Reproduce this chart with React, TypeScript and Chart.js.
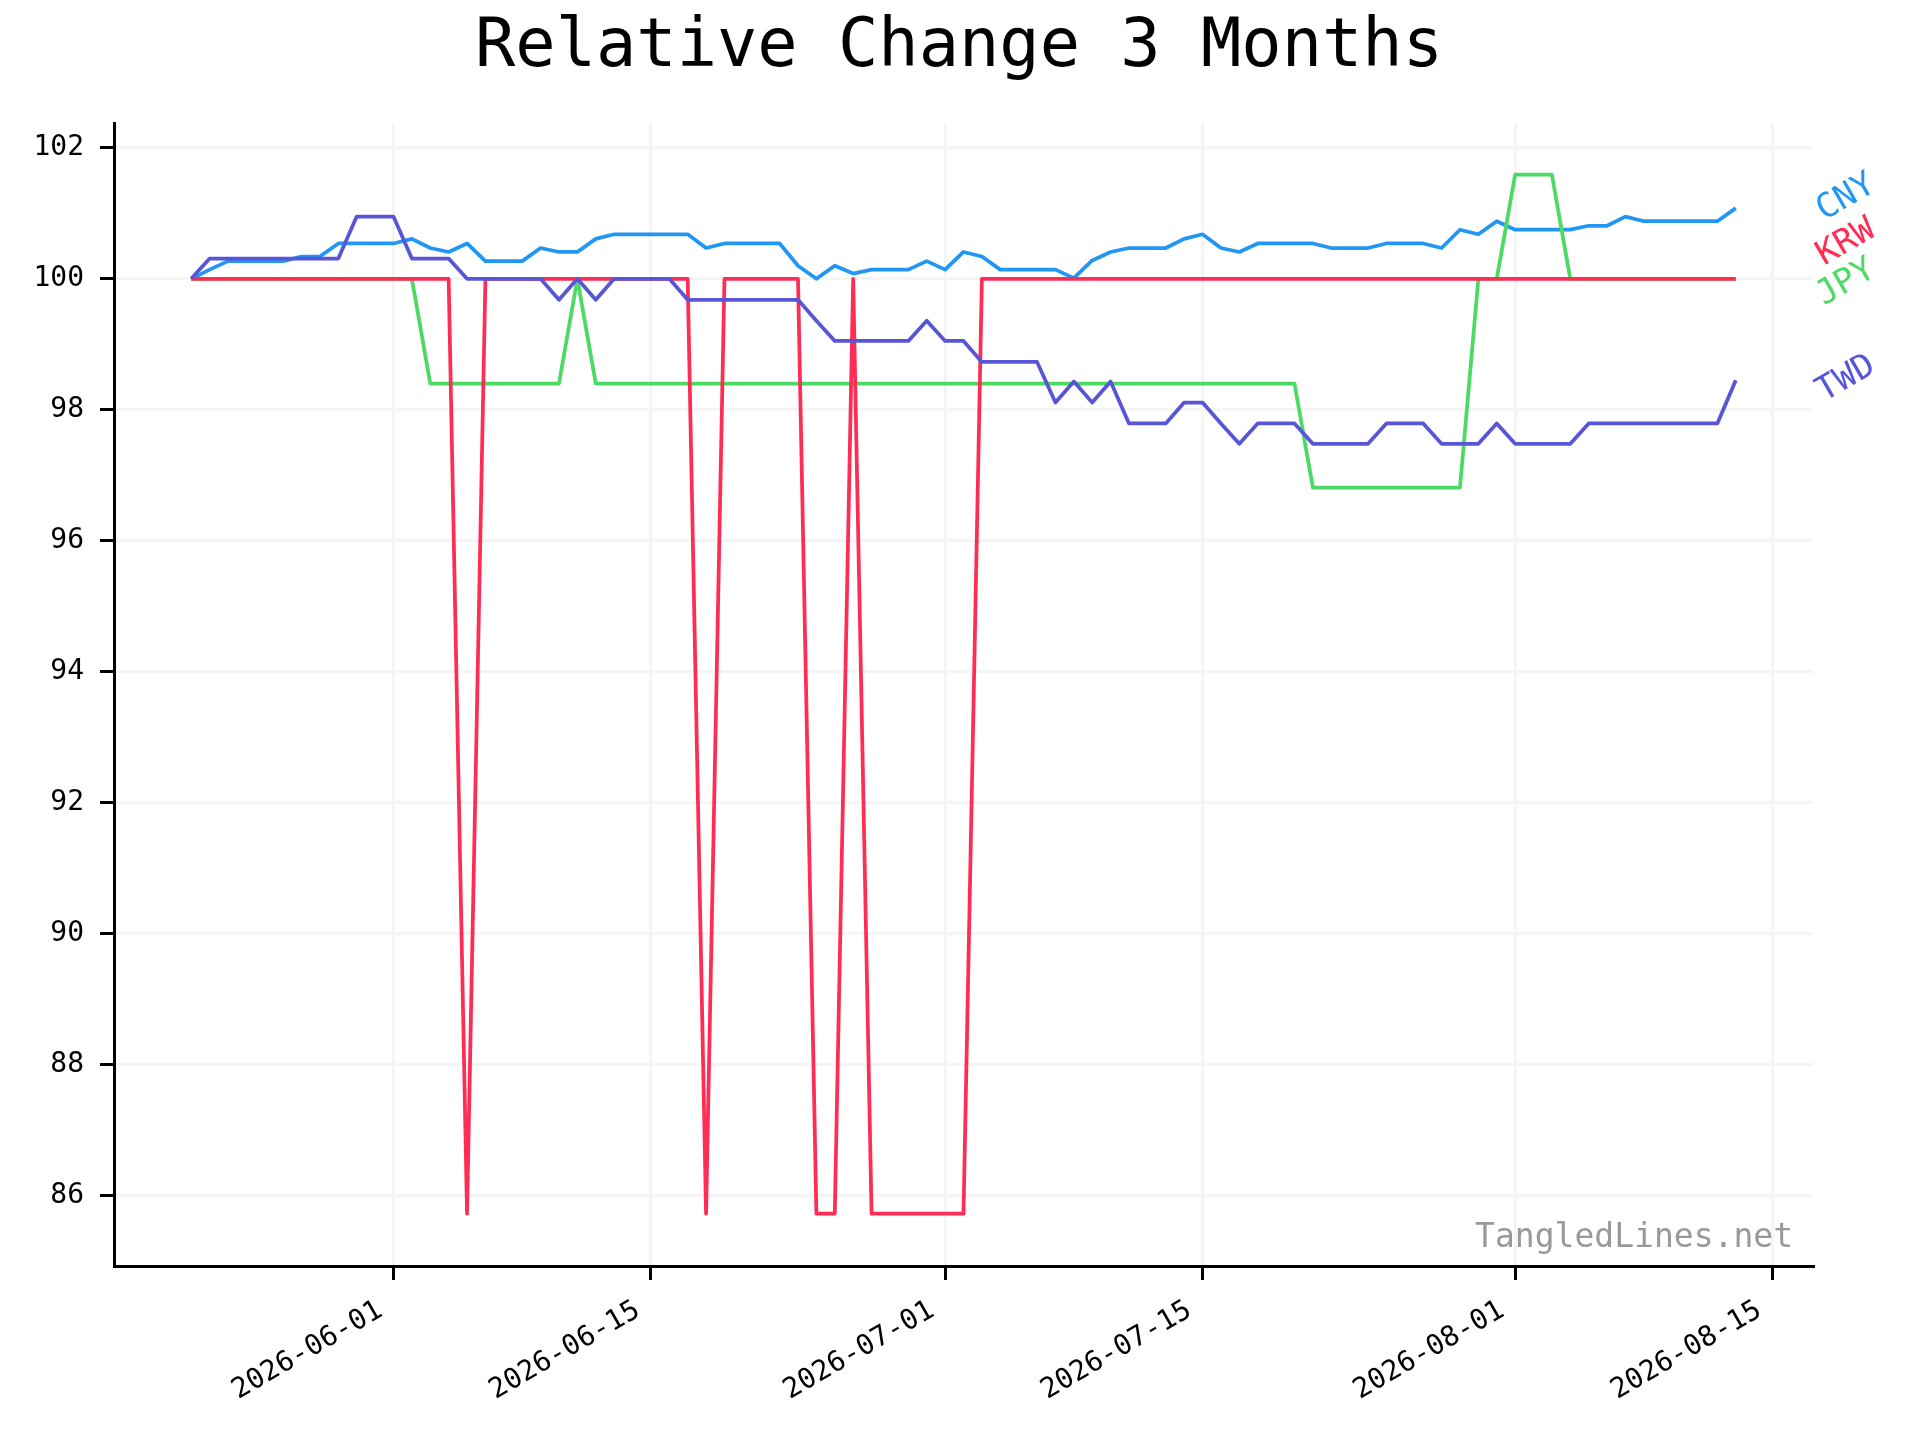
import { useEffect, useRef } from 'react'
import { Chart, registerables } from 'chart.js'

Chart.register(...registerables)

const TITLE = 'Relative Change 3 Months'
const WATERMARK = 'TangledLines.net'
const START_DATE = '2026-05-21'
const TICK_LABELS = ['2026-06-01', '2026-06-15', '2026-07-01', '2026-07-15', '2026-08-01', '2026-08-15']
const Y_TICKS = [86, 88, 90, 92, 94, 96, 98, 100, 102]

// one value per day, starting at START_DATE
const CNY = [
  100, 100.14, 100.27, 100.27, 100.27, 100.27, 100.34, 100.34, 100.54, 100.54,
  100.54, 100.54, 100.61, 100.47, 100.41, 100.54, 100.27, 100.27, 100.27, 100.47,
  100.41, 100.41, 100.61, 100.68, 100.68, 100.68, 100.68, 100.68, 100.47, 100.54,
  100.54, 100.54, 100.54, 100.2, 100, 100.2, 100.08, 100.14, 100.14, 100.14,
  100.27, 100.14, 100.41, 100.34, 100.14, 100.14, 100.14, 100.14, 100.01, 100.28,
  100.41, 100.47, 100.47, 100.47, 100.61, 100.68, 100.47, 100.41, 100.54, 100.54,
  100.54, 100.54, 100.47, 100.47, 100.47, 100.54, 100.54, 100.54, 100.47, 100.75,
  100.68, 100.88, 100.75, 100.75, 100.75, 100.75, 100.81, 100.81, 100.95, 100.88,
  100.88, 100.88, 100.88, 100.88, 101.08,
]
const KRW = [
  100, 100, 100, 100, 100, 100, 100, 100, 100, 100,
  100, 100, 100, 100, 100, 85.72, 100, 100, 100, 100,
  100, 100, 100, 100, 100, 100, 100, 100, 85.72, 100,
  100, 100, 100, 100, 85.72, 85.72, 100, 85.72, 85.72, 85.72,
  85.72, 85.72, 85.72, 100, 100, 100, 100, 100, 100, 100,
  100, 100, 100, 100, 100, 100, 100, 100, 100, 100,
  100, 100, 100, 100, 100, 100, 100, 100, 100, 100,
  100, 100, 100, 100, 100, 100, 100, 100, 100, 100,
  100, 100, 100, 100, 100,
]
const JPY = [
  100, 100, 100, 100, 100, 100, 100, 100, 100, 100,
  100, 100, 100, 98.4, 98.4, 98.4, 98.4, 98.4, 98.4, 98.4,
  98.4, 100, 98.4, 98.4, 98.4, 98.4, 98.4, 98.4, 98.4, 98.4,
  98.4, 98.4, 98.4, 98.4, 98.4, 98.4, 98.4, 98.4, 98.4, 98.4,
  98.4, 98.4, 98.4, 98.4, 98.4, 98.4, 98.4, 98.4, 98.4, 98.4,
  98.4, 98.4, 98.4, 98.4, 98.4, 98.4, 98.4, 98.4, 98.4, 98.4,
  98.4, 96.81, 96.81, 96.81, 96.81, 96.81, 96.81, 96.81, 96.81, 96.81,
  100, 100, 101.59, 101.59, 101.59, 100, 100, 100, 100, 100,
  100, 100, 100, 100, 100,
]
const TWD = [
  100, 100.31, 100.31, 100.31, 100.31, 100.31, 100.31, 100.31, 100.31, 100.95,
  100.95, 100.95, 100.31, 100.31, 100.31, 100, 100, 100, 100, 100,
  99.68, 100, 99.68, 100, 100, 100, 100, 99.68, 99.68, 99.68,
  99.68, 99.68, 99.68, 99.68, 99.36, 99.05, 99.05, 99.05, 99.05, 99.05,
  99.36, 99.05, 99.05, 98.73, 98.73, 98.73, 98.73, 98.11, 98.43, 98.11,
  98.43, 97.79, 97.79, 97.79, 98.11, 98.11, 97.79, 97.48, 97.79, 97.79,
  97.79, 97.48, 97.48, 97.48, 97.48, 97.79, 97.79, 97.79, 97.48, 97.48,
  97.48, 97.79, 97.48, 97.48, 97.48, 97.48, 97.79, 97.79, 97.79, 97.79,
  97.79, 97.79, 97.79, 97.79, 98.45,
]

// end-of-line labels, nudged apart like the original
const LABEL_DAY = 90
const LABEL_Y = { CNY: 101.24, KRW: 100.55, JPY: 99.94, TWD: 98.47 }

const MONO = '"DejaVu Sans Mono", monospace'
const GRID = '#f5f5f5'

// first in list is drawn on top
const SERIES = [
  { name: 'TWD', values: TWD, color: '#5856d6' },
  { name: 'KRW', values: KRW, color: '#ff2d55' },
  { name: 'JPY', values: JPY, color: '#4cd964' },
  { name: 'CNY', values: CNY, color: '#2196f3' },
]

const dayOffset = (d: string) => Math.round((Date.parse(d) - Date.parse(START_DATE)) / 86400000)

const decorations = {
  id: 'decorations',
  afterDraw(chart: any) {
    const { ctx, chartArea, scales } = chart
    ctx.save()
    ctx.fillStyle = '#000'
    ctx.font = `67px ${MONO}`
    ctx.textAlign = 'center'
    ctx.textBaseline = 'alphabetic'
    ctx.fillText(TITLE, 959, 66)

    ctx.fillStyle = '#999999'
    ctx.font = `33px ${MONO}`
    ctx.textAlign = 'right'
    ctx.fillText(WATERMARK, chartArea.right - 20, chartArea.bottom - 19)

    SERIES.forEach(s => {
      ctx.save()
      ctx.translate(scales.x.getPixelForValue(LABEL_DAY), scales.y.getPixelForValue((LABEL_Y as any)[s.name]))
      ctx.rotate(-Math.PI / 6)
      ctx.fillStyle = s.color
      ctx.font = `34px ${MONO}`
      ctx.textAlign = 'center'
      ctx.textBaseline = 'middle'
      ctx.fillText(s.name, 0, 0)
      ctx.restore()
    })
    ctx.restore()
  },
}

export default function App() {
  const canvasRef = useRef<HTMLCanvasElement>(null)

  useEffect(() => {
    if (!canvasRef.current) return
    document.body.style.margin = '0'

    const tickDays = TICK_LABELS.map(dayOffset)
    const axisGrid = { color: GRID, lineWidth: 3, tickColor: '#000', tickWidth: 3, tickLength: 14 }
    const axisBorder = { color: '#000', width: 3 }

    const chart = new Chart(canvasRef.current, {
      type: 'line',
      data: {
        datasets: SERIES.map(s => ({
          label: s.name,
          data: s.values.map((y, i) => ({ x: i, y })),
          borderColor: s.color,
          backgroundColor: s.color,
          borderWidth: 3.75,
          borderJoinStyle: 'round',
          pointRadius: 0,
          tension: 0,
        })),
      },
      options: {
        animation: false,
        responsive: true,
        maintainAspectRatio: false,
        devicePixelRatio: 1,
        layout: { padding: { top: 123, right: 107, left: 0, bottom: 0 } },
        plugins: {
          legend: { display: false },
          tooltip: { enabled: false },
        },
        scales: {
          x: {
            type: 'linear',
            min: -4.2,
            max: 88.2,
            afterBuildTicks: (s: any) => { s.ticks = tickDays.map(v => ({ value: v })) },
            afterFit: (s: any) => { s.height = 174 },
            grid: axisGrid,
            border: axisBorder,
            ticks: {
              autoSkip: false,
              minRotation: 30,
              maxRotation: 30,
              padding: 14,
              labelOffset: -13,
              color: '#000',
              font: { family: MONO, size: 28 },
              callback: (v: any) => TICK_LABELS[tickDays.indexOf(Number(v))] ?? '',
            },
          },
          y: {
            type: 'linear',
            min: 84.92,
            max: 102.38,
            afterBuildTicks: (s: any) => { s.ticks = Y_TICKS.map(v => ({ value: v })) },
            afterFit: (s: any) => { s.width = 114 },
            grid: axisGrid,
            border: axisBorder,
            ticks: {
              padding: 16,
              color: '#000',
              font: { family: MONO, size: 28 },
              callback: (v: any) => String(v),
            },
          },
        },
      } as any,
      plugins: [decorations],
    })

    return () => chart.destroy()
  }, [])

  return (
    <div style={{ width: 1920, height: 1440 }}>
      <canvas ref={canvasRef} />
    </div>
  )
}
